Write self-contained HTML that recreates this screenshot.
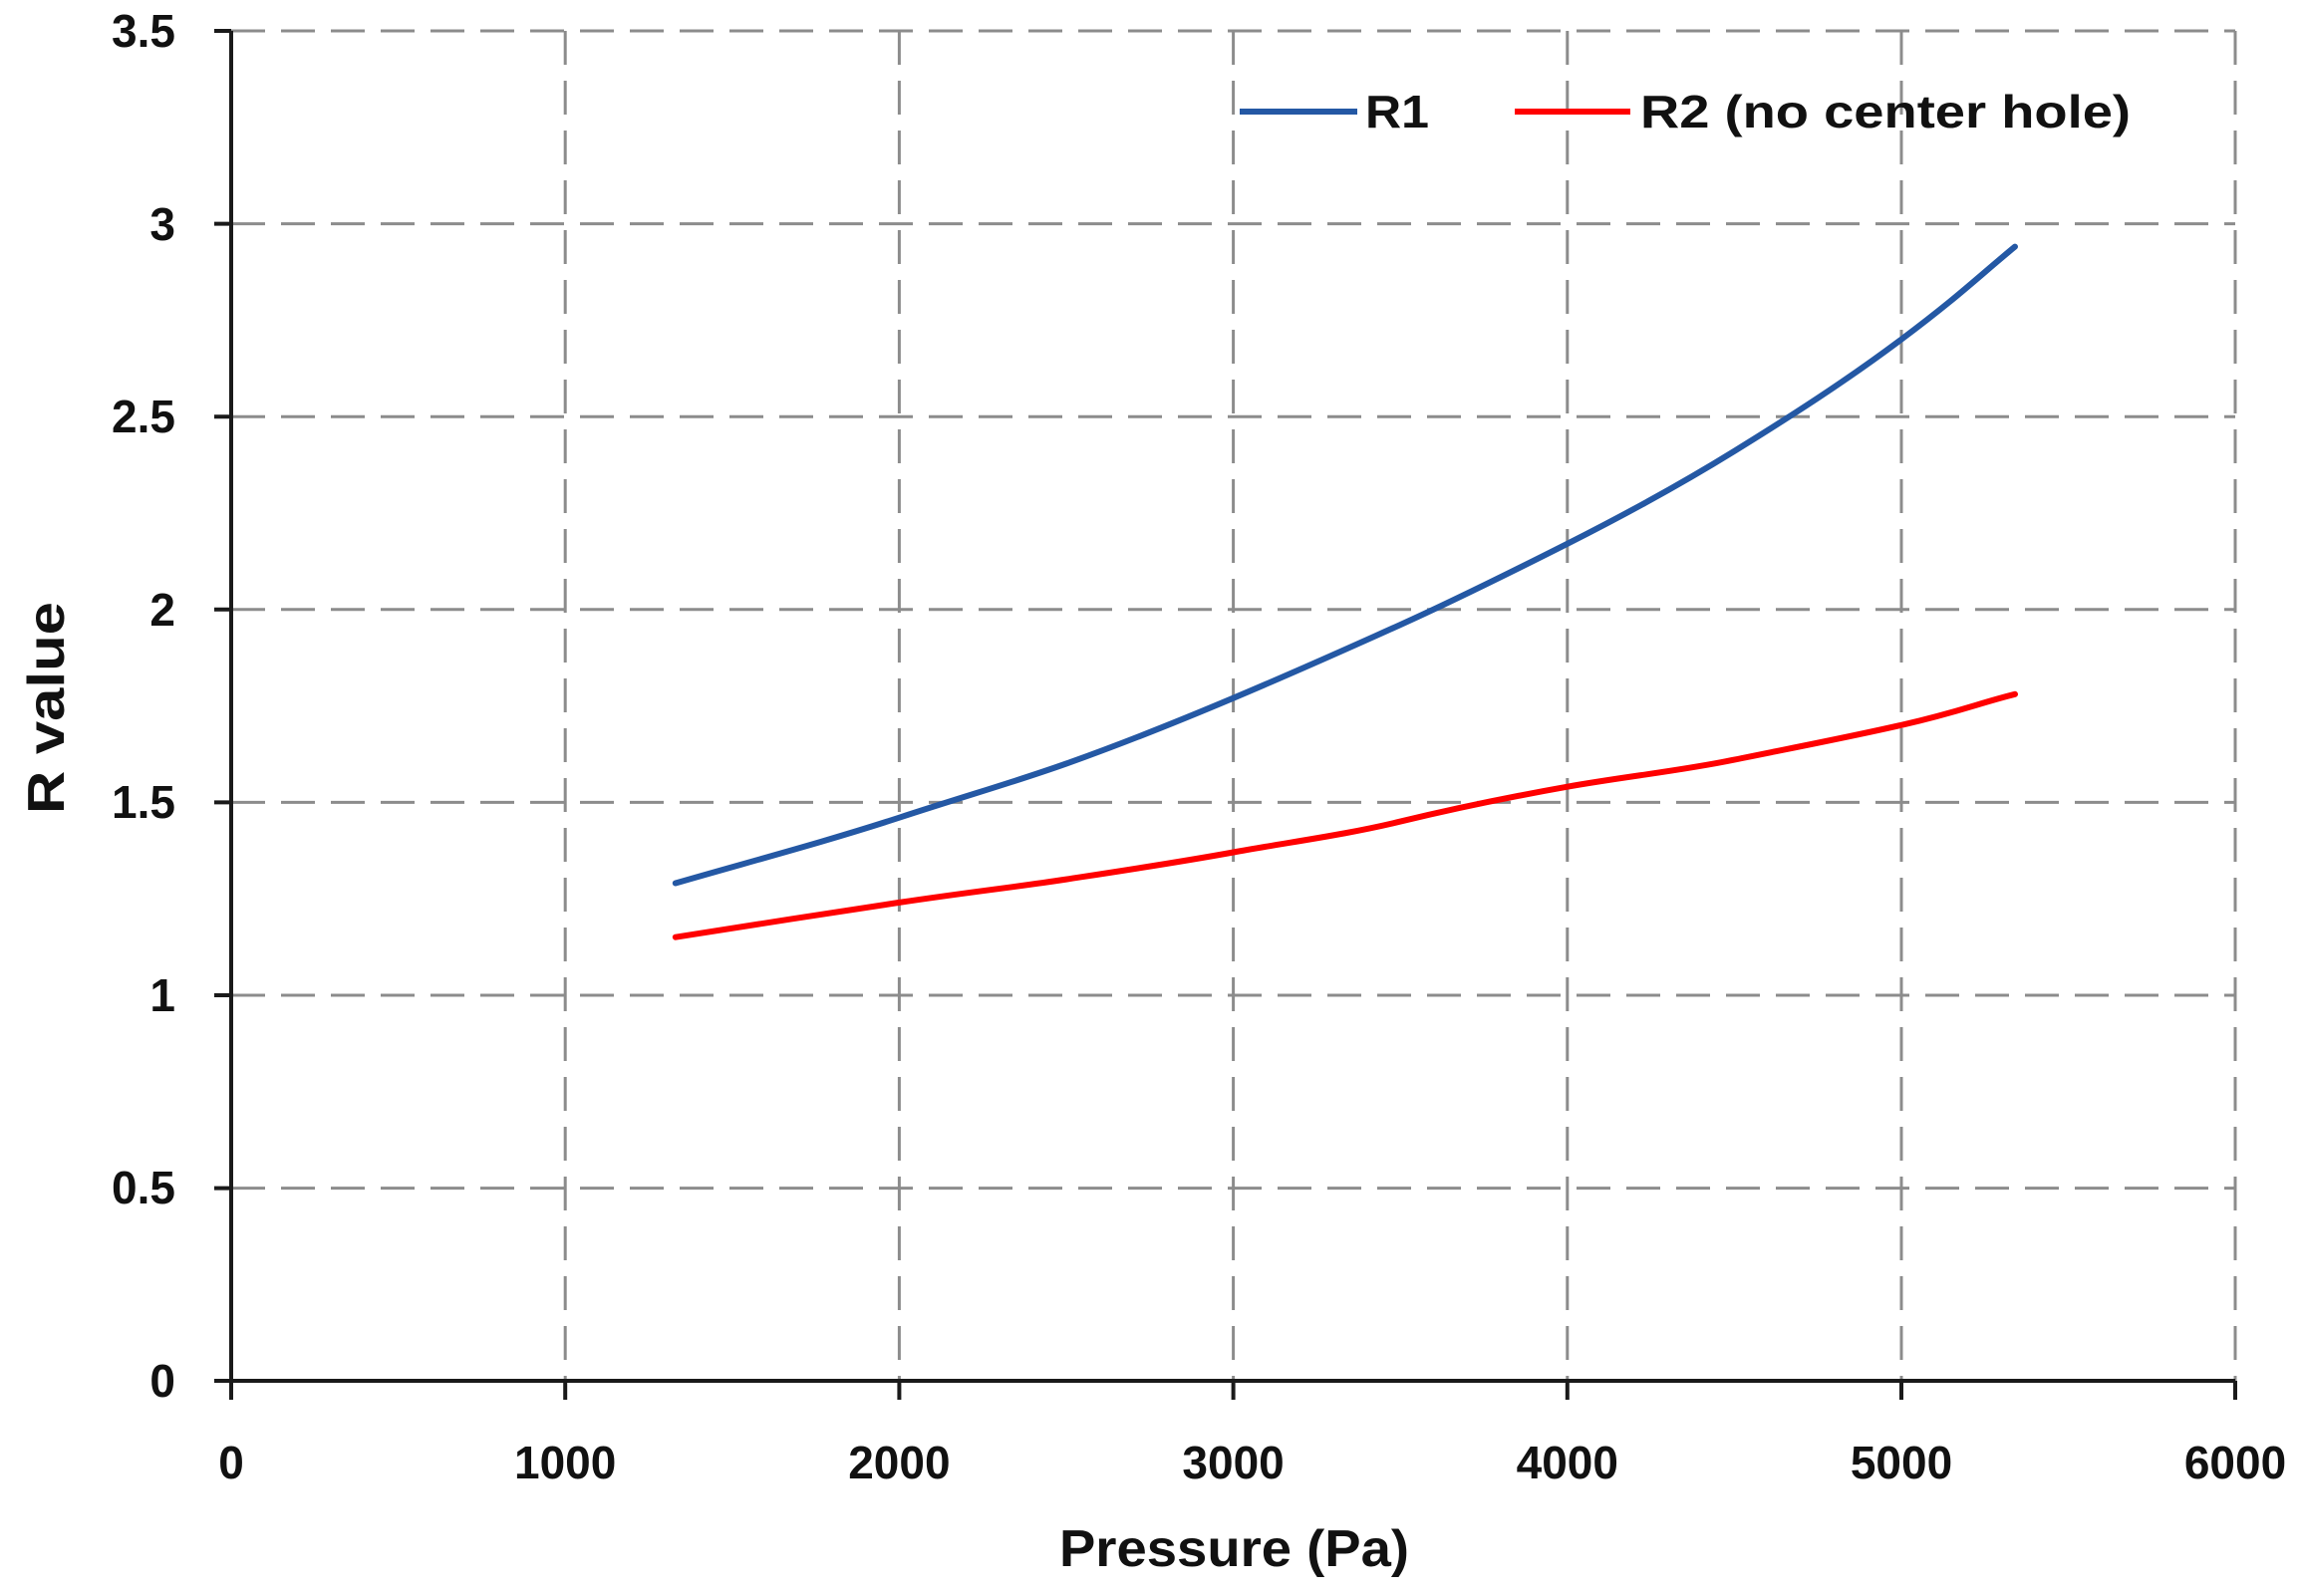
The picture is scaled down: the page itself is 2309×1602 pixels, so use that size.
<!DOCTYPE html>
<html><head><meta charset="utf-8"><style>html,body{margin:0;padding:0;background:#fff}</style></head>
<body>
<svg width="2309" height="1597" xmlns="http://www.w3.org/2000/svg" font-family="'Liberation Sans', sans-serif" font-weight="bold">
<rect width="2309" height="1597" fill="#fff"/>
<g stroke="#8c8c8c" stroke-width="3" stroke-dasharray="34,16" fill="none">
<line x1="232" y1="31" x2="2243" y2="31"/>
<line x1="232" y1="224.6" x2="2243" y2="224.6"/>
<line x1="232" y1="418.2" x2="2243" y2="418.2"/>
<line x1="232" y1="611.8" x2="2243" y2="611.8"/>
<line x1="232" y1="805.4" x2="2243" y2="805.4"/>
<line x1="232" y1="999" x2="2243" y2="999"/>
<line x1="232" y1="1192.6" x2="2243" y2="1192.6"/>
<line x1="567.2" y1="31" x2="567.2" y2="1386"/>
<line x1="902.4" y1="31" x2="902.4" y2="1386"/>
<line x1="1237.6" y1="31" x2="1237.6" y2="1386"/>
<line x1="1572.8" y1="31" x2="1572.8" y2="1386"/>
<line x1="1908" y1="31" x2="1908" y2="1386"/>
<line x1="2243" y1="31" x2="2243" y2="1386"/>
</g>
<g stroke="#1a1a1a" stroke-width="4">
<line x1="232" y1="31" x2="232" y2="1405"/>
<line x1="215" y1="1386" x2="2243" y2="1386"/>
<line x1="215" y1="31" x2="232" y2="31"/>
<line x1="215" y1="224.6" x2="232" y2="224.6"/>
<line x1="215" y1="418.2" x2="232" y2="418.2"/>
<line x1="215" y1="611.8" x2="232" y2="611.8"/>
<line x1="215" y1="805.4" x2="232" y2="805.4"/>
<line x1="215" y1="999" x2="232" y2="999"/>
<line x1="215" y1="1192.6" x2="232" y2="1192.6"/>
<line x1="567.2" y1="1386" x2="567.2" y2="1405"/>
<line x1="902.4" y1="1386" x2="902.4" y2="1405"/>
<line x1="1237.6" y1="1386" x2="1237.6" y2="1405"/>
<line x1="1572.8" y1="1386" x2="1572.8" y2="1405"/>
<line x1="1908" y1="1386" x2="1908" y2="1405"/>
<line x1="2243" y1="1386" x2="2243" y2="1405"/>
</g>
<g font-size="46" fill="#111" text-anchor="end">
<text x="176" y="47">3.5</text>
<text x="176" y="241">3</text>
<text x="176" y="434">2.5</text>
<text x="176" y="628">2</text>
<text x="176" y="821">1.5</text>
<text x="176" y="1015">1</text>
<text x="176" y="1208">0.5</text>
<text x="176" y="1402">0</text>
</g>
<g font-size="46" fill="#111" text-anchor="middle">
<text x="232" y="1484">0</text>
<text x="567.2" y="1484">1000</text>
<text x="902.4" y="1484">2000</text>
<text x="1237.6" y="1484">3000</text>
<text x="1572.8" y="1484">4000</text>
<text x="1908" y="1484">5000</text>
<text x="2243" y="1484">6000</text>
</g>
<text x="1063" y="1572" font-size="52" fill="#111" textLength="351" lengthAdjust="spacingAndGlyphs">Pressure (Pa)</text>
<text transform="translate(64,817) rotate(-90)" font-size="52" fill="#111" textLength="213" lengthAdjust="spacingAndGlyphs">R value</text>
<path fill="none" stroke="#2458a4" stroke-width="6" stroke-linecap="round"
d="M677.8,886.5 C752,865 828,845 902.4,820.7 S1015,786 1070,766.5 S1180,725 1237.6,700.7 S1350,652 1405.2,627.1 S1515,575 1572.8,545.8 S1685,487 1740.4,452.8 S1850,384 1908,340.6 S1985,278 2022,247.6"/>
<path fill="none" stroke="#ff0000" stroke-width="6" stroke-linecap="round"
d="M677.8,940.7 C752,929 828,917 902.4,905.9 S1015,891 1070,882.6 S1180,866 1237.6,855.5 S1350,838 1405.2,824.6 S1515,800 1572.8,789.7 S1685,774 1740.4,762.6 S1850,741 1908,727.8 S1985,706 2022,696.8"/>
<line x1="1244" y1="112" x2="1362" y2="112" stroke="#2458a4" stroke-width="6"/>
<text x="1370" y="128" font-size="46" fill="#111" textLength="64" lengthAdjust="spacingAndGlyphs">R1</text>
<line x1="1520" y1="112" x2="1636" y2="112" stroke="#ff0000" stroke-width="6"/>
<text x="1646" y="128" font-size="46" fill="#111" textLength="492" lengthAdjust="spacingAndGlyphs">R2 (no center hole)</text>
</svg>
</body></html>
